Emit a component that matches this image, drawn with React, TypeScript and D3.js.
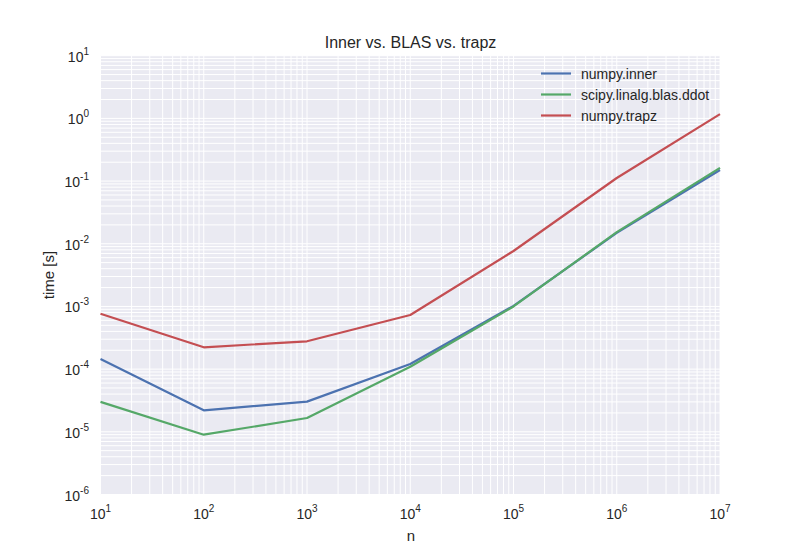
import React from "react";
import * as d3 from "d3";

const nValues = [1e1, 1e2, 1e3, 1e4, 1e5, 1e6, 1e7];
const innerTimes = [1.45e-4, 2.2e-5, 3.03e-5, 1.21e-4, 1.02e-3, 1.49e-2, 0.15];
const ddotTimes = [3.0e-5, 9.0e-6, 1.66e-5, 1.09e-4, 1.0e-3, 1.53e-2, 0.162];
const trapzTimes = [7.66e-4, 2.23e-4, 2.78e-4, 7.3e-4, 7.67e-3, 0.112, 1.17];
const seriesNames = ["numpy.inner", "scipy.linalg.blas.ddot", "numpy.trapz"];
const xTickExps = [1, 2, 3, 4, 5, 6, 7];
const yTickExps = [-6, -5, -4, -3, -2, -1, 0, 1];

const colors = ["#4C72B0", "#55A868", "#C44E52"];
const FONT = "'Liberation Sans', Arial, sans-serif";

export default function App() {
  const W = 800, H = 550;
  const left = 100.5, right = 720, top = 55.7, bottom = 494.5;
  const x = d3.scaleLog().domain([1e1, 1e7]).range([left, right]);
  const y = d3.scaleLog().domain([1e-6, 1e1]).range([bottom, top]);

  const xGrid: number[] = [];
  for (let e = 1; e <= 7; e++) for (let m = 1; m <= 9; m++) { const v = m * Math.pow(10, e); if (v <= 1e7) xGrid.push(v); }
  const yGrid: number[] = [];
  for (let e = -6; e <= 1; e++) for (let m = 1; m <= 9; m++) { const v = m * Math.pow(10, e); if (v <= 10) yGrid.push(v); }

  const line = d3.line<[number, number]>().x(d => x(d[0])).y(d => y(d[1]));
  const series = [innerTimes, ddotTimes, trapzTimes];

  return (
    <svg width={W} height={H} style={{ position: "absolute", left: 0, top: 0 }} fontFamily={FONT}>
      <rect x={0} y={0} width={W} height={H} fill="#fff" />
      <rect x={left} y={top} width={right - left} height={bottom - top} fill="#EAEAF2" />
      {xGrid.map((v, i) => (
        <line key={"gx" + i} x1={x(v)} x2={x(v)} y1={top} y2={bottom} stroke="#fff" strokeWidth={1} />
      ))}
      {yGrid.map((v, i) => (
        <line key={"gy" + i} x1={left} x2={right} y1={y(v)} y2={y(v)} stroke="#fff" strokeWidth={1} />
      ))}
      {series.map((s, i) => (
        <path key={"s" + i} d={line(nValues.map((n, j) => [n, s[j]]) as [number, number][]) || ""}
          fill="none" stroke={colors[i]} strokeWidth={2.2} strokeLinejoin="round" />
      ))}
      {xTickExps.map(e => (
        <text key={"xt" + e} x={x(Math.pow(10, e))} y={519} textAnchor="middle" fontSize={14} fill="#262626">
          10<tspan dy={-7} fontSize={10}>{e}</tspan>
        </text>
      ))}
      {yTickExps.map(e => (
        <text key={"yt" + e} x={89} y={y(Math.pow(10, e)) + 6} textAnchor="end" fontSize={14} fill="#262626">
          10<tspan dy={-7} fontSize={10}>{e}</tspan>
        </text>
      ))}
      <text x={411} y={541} textAnchor="middle" fontSize={15} fill="#262626">n</text>
      <text transform={`translate(54,275) rotate(-90)`} textAnchor="middle" fontSize={15} fill="#262626">time [s]</text>
      <text x={410.5} y={48} textAnchor="middle" fontSize={16} fill="#262626">Inner vs. BLAS vs. trapz</text>
      {seriesNames.map((name, i) => (
        <g key={"lg" + i} transform={`translate(0,${73.5 + i * 21})`}>
          <line x1={541} x2={571} y1={0} y2={0} stroke={colors[i]} strokeWidth={2.2} />
          <text x={581} y={5} fontSize={14} fill="#262626">{name}</text>
        </g>
      ))}
    </svg>
  );
}
